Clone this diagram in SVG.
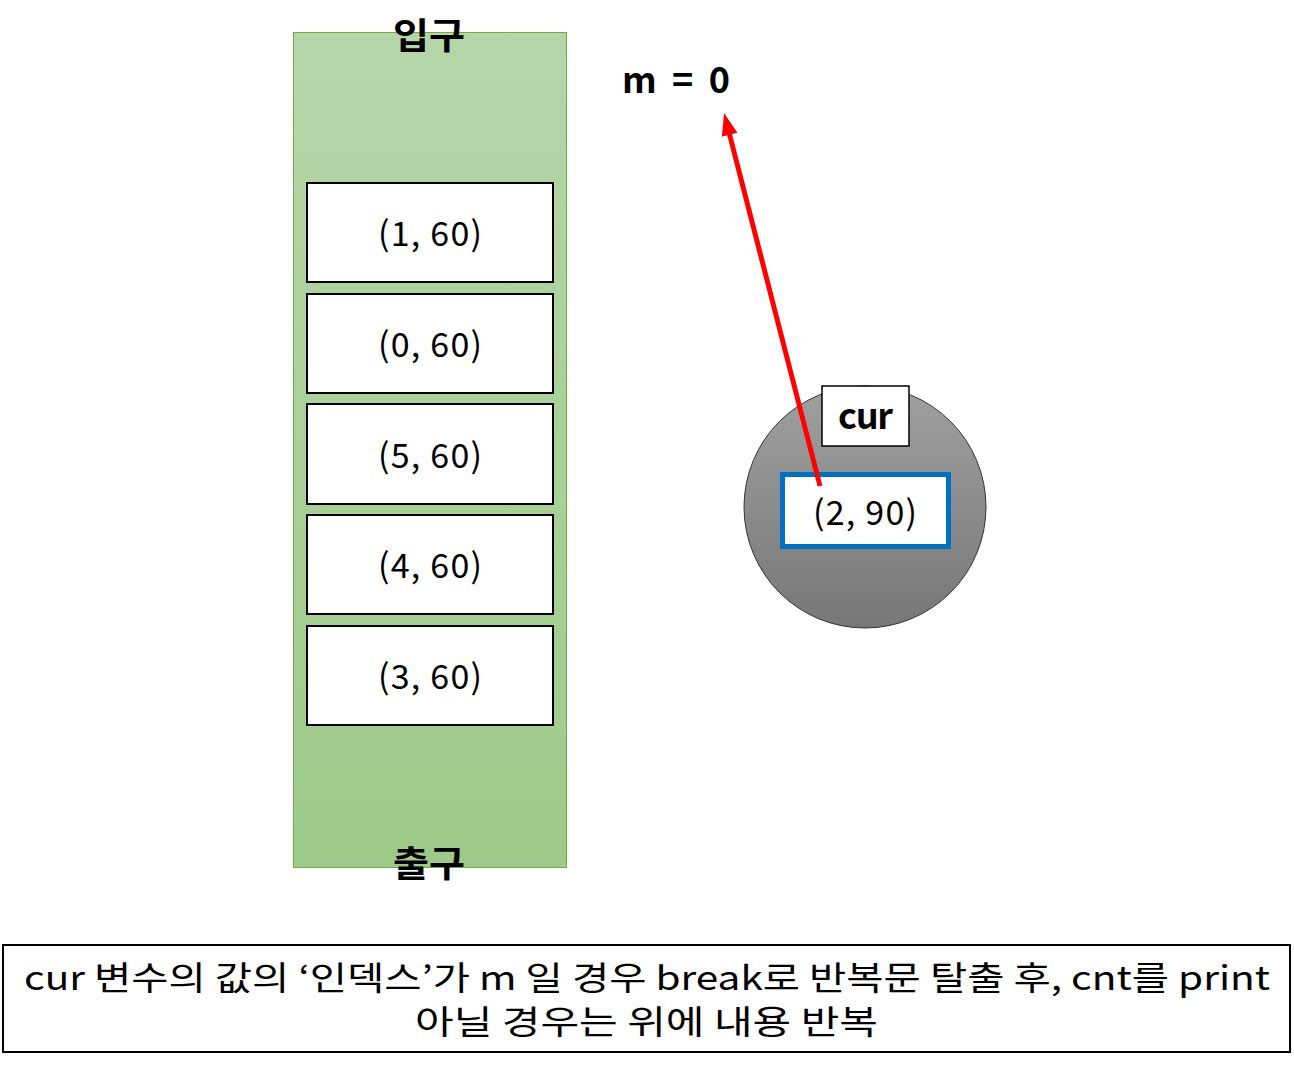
<svg xmlns="http://www.w3.org/2000/svg" width="1294" height="1067" viewBox="0 0 1294 1067">
<style>
text{font-family:"Noto Sans CJK KR","Noto Sans",sans-serif;fill:#000;text-anchor:middle}
.b{font-weight:bold;font-size:36px}
.item{fill:#fff;stroke:#000;stroke-width:2}
.t{font-size:34px}
.n{font-size:33px}
</style>
<defs>
<linearGradient id="g1" x1="0" y1="0" x2="0" y2="1"><stop offset="0" stop-color="#b6d6a9"/><stop offset="1" stop-color="#9dca88"/></linearGradient>
<linearGradient id="g2" x1="0" y1="0" x2="0" y2="1"><stop offset="0" stop-color="#a0a0a0"/><stop offset="1" stop-color="#777"/></linearGradient>
<marker id="ah" markerWidth="5" markerHeight="4" refX="1" refY="1.6" orient="auto" markerUnits="strokeWidth"><path d="M0,0L4.5,1.6L0,3.2z" fill="#f00"/></marker>
</defs>
<g id="queue">
<rect x="293.5" y="32.5" width="273" height="835" fill="url(#g1)" stroke="#70ad47" stroke-width="1"/>
<text class="b" x="429" y="49" textLength="72" lengthAdjust="spacingAndGlyphs">입구</text>
<text class="b" x="429" y="877" textLength="72" lengthAdjust="spacingAndGlyphs">출구</text>
</g>
<g id="item1"><rect class="item" x="307" y="183" width="246" height="99"/><text class="t" x="430" y="246" textLength="104">(1, 60)</text></g>
<g id="item2"><rect class="item" x="307" y="294" width="246" height="99"/><text class="t" x="430" y="357" textLength="104">(0, 60)</text></g>
<g id="item3"><rect class="item" x="307" y="404" width="246" height="100"/><text class="t" x="430" y="468" textLength="104">(5, 60)</text></g>
<g id="item4"><rect class="item" x="307" y="515" width="246" height="99"/><text class="t" x="430" y="578" textLength="104">(4, 60)</text></g>
<g id="item5"><rect class="item" x="307" y="626" width="246" height="99"/><text class="t" x="430" y="689" textLength="104">(3, 60)</text></g>
<g id="m"><text class="b" x="676" y="93" textLength="108" xml:space="preserve">m  =  0</text></g>
<g id="curnode">
<circle cx="865" cy="507" r="121" fill="url(#g2)" stroke="#333" stroke-width="1"/>
<rect x="822" y="386" width="87" height="60" fill="#fff" stroke="#000" stroke-width="1.5"/>
<text class="b" x="865.5" y="429" textLength="55">cur</text>
<rect x="782.5" y="474.5" width="166" height="72" fill="#fff" stroke="#0070c0" stroke-width="5"/>
<text class="t" x="865" y="525" textLength="104">(2, 90)</text>
</g>
<g id="connectors">
<line x1="820" y1="486" x2="728.4" y2="130" stroke="#f00" stroke-width="5" marker-end="url(#ah)"/>
</g>
<g id="note">
<rect x="3" y="945" width="1287" height="107" fill="#fff" stroke="#000" stroke-width="2"/>
<text class="n" x="647" y="990" textLength="1246" lengthAdjust="spacingAndGlyphs">cur 변수의 값의 ‘인덱스’가 m 일 경우 break로 반복문 탈출 후, cnt를 print</text>
<text class="n" x="646.5" y="1034" textLength="463" lengthAdjust="spacingAndGlyphs">아닐 경우는 위에 내용 반복</text>
</g>
</svg>
